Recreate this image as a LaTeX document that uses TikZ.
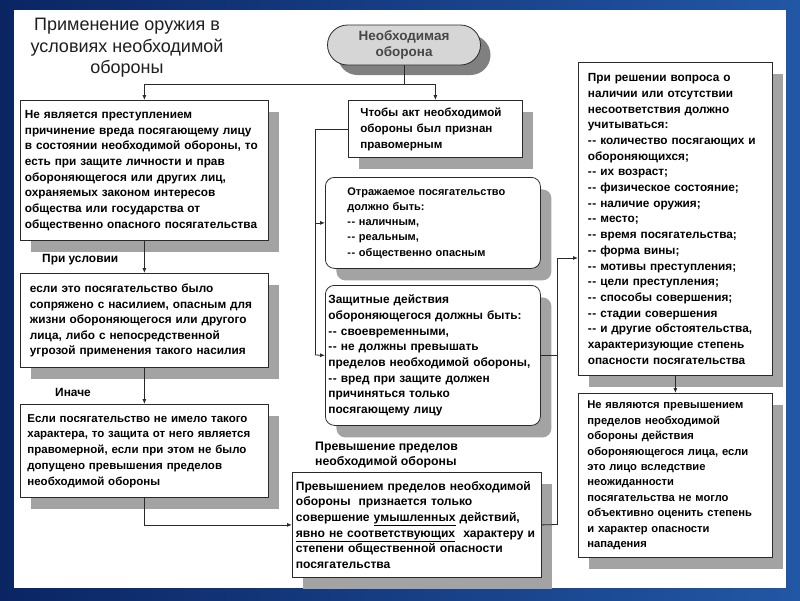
\documentclass[tikz,border=0pt]{standalone}
\usepackage{fontspec}
\setmainfont{Liberation Sans}
\usetikzlibrary{shadows,arrows.meta,calc}
\definecolor{bgdark}{HTML}{0B2563}
\definecolor{bglight}{HTML}{2257A5}
\definecolor{lineclr}{HTML}{2A2A2A}
\definecolor{shadowclr}{HTML}{A3A3A3}
\definecolor{capfill}{HTML}{D6D6D6}
\definecolor{capshadow}{HTML}{808080}
\newcommand\hh{-\kern0.6pt-}
\newcommand\bfsz[2]{\bfseries\fontsize{#1}{#2}\selectfont}
\begin{document}
\begin{tikzpicture}[x=1pt,y=-1pt,
  txt/.style={font=\bfsz{11}{15.7}, text=black},
  box/.style={txt, draw=lineclr, line width=0.8pt, fill=white, align=left, anchor=north west,
     inner xsep=5pt, inner ysep=0pt,
     drop shadow={shadow xshift=11pt, shadow yshift=-12pt, fill=shadowclr, opacity=1}},
  rbox/.style={box, rounded corners=9pt},
  conn/.style={draw=lineclr, line width=0.8pt},
  arr/.style={conn, -{Latex[length=5pt,width=4pt]}},
  lbl/.style={txt, align=left, anchor=west, inner sep=0pt}]
\useasboundingbox (0,0) rectangle (800,600);
\shade[left color=bgdark, right color=bglight] (0,0) rectangle (800,600);
\fill[white] (14,10) rectangle (786,588);

% title
\node[font=\fontsize{18}{21.5}\selectfont, align=center, text=black!88] (title) at (127,48)
  {Применение оружия в\\условиях необходимой\\обороны};

% top capsule
\node[draw=lineclr, line width=0.8pt, fill=capfill, rounded corners=20pt,
  minimum width=153pt, minimum height=40pt, align=center,
  font=\bfsz{13.5}{16}, text=black!72,
  drop shadow={shadow xshift=10pt, shadow yshift=-10pt, fill=capshadow, opacity=1}]
  (top) at (404,45) {Необходимая\\оборона};

% left column
\node[box, font=\bfsz{11.8}{15.7}, text width=239pt, inner xsep=4.5pt, minimum height=140pt] (L1) at (20,100)
  {Не является преступлением\\
   причинение вреда посягающему лицу\\
   в состоянии необходимой обороны, то\\
   есть при защите личности и прав\\
   обороняющегося или других лиц,\\
   охраняемых законом интересов\\
   общества или государства от\\
   общественно опасного посягательства};
\node[box, font=\bfsz{11.8}{15.5}, inner xsep=9.5pt, text width=229pt, minimum height=94pt] (L2) at (20,273)
  {если это посягательство было\\
   сопряжено с насилием, опасным для\\
   жизни обороняющегося или другого\\
   лица, либо с непосредственной\\
   угрозой применения такого насилия};
\node[box, font=\bfsz{11.5}{15.7}, inner xsep=7pt, text width=234pt, minimum height=93pt] (L3) at (20,404)
  {Если посягательство не имело такого\\
   характера, то защита от него является\\
   правомерной, если при этом не было\\
   допущено превышения пределов\\
   необходимой обороны};

\node[lbl, font=\bfsz{11.9}{15}] (lb1) at (42,260) {При условии};
\node[lbl, font=\bfsz{11.9}{15}] (lb2) at (55,392) {Иначе};

% middle column
\node[box, font=\bfsz{11.6}{16}, inner xsep=12pt, text width=150pt, minimum height=57pt] (M1) at (348,100)
  {Чтобы акт необходимой\\
   обороны был признан\\
   правомерным};
\node[rbox, font=\bfsz{11}{15.2}, inner xsep=22pt, text width=171pt, minimum height=91pt] (M2) at (325,177)
  {Отражаемое посягательство\\
   должно быть:\\
   \hh{} наличным,\\
   \hh{} реальным,\\
   \hh{} общественно опасным};
\node[rbox, font=\bfsz{11.9}{15.7}, inner xsep=3pt, text width=209pt, minimum height=140pt] (M3) at (325,285)
  {Защитные действия\\
   обороняющегося должны быть:\\
   \hh{} своевременными,\\
   \hh{} не должны превышать\\
   пределов необходимой обороны,\\
   \hh{} вред при защите должен\\
   причиняться только\\
   посягающему лицу};

\node[lbl, font=\bfsz{12.3}{15}] (lb3) at (315,455.5)
  {Превышение пределов\\необходимой обороны};

\node[box, font=\bfsz{12.1}{15.7}, inner xsep=3.5pt, text width=242pt, minimum height=105pt] (M4) at (292,472)
  {Превышением пределов необходимой\\
   обороны \ признается только\\
   совершение \underline{умышленных} действий,\\
   \underline{явно не соответствующих} \ характеру и\\
   степени общественной опасности\\
   посягательства};

% right column
\node[box, font=\bfsz{11.8}{15.7}, inner xsep=9.5pt, text width=175pt, minimum height=313pt] (R1) at (578,62)
  {При решении вопроса о\\
   наличии или отсутствии\\
   несоответствия должно\\
   учитываться:\\
   \hh{} количество посягающих и\\
   обороняющихся;\\
   \hh{} их возраст;\\
   \hh{} физическое состояние;\\
   \hh{} наличие оружия;\\
   \hh{} место;\\
   \hh{} время посягательства;\\
   \hh{} форма вины;\\
   \hh{} мотивы преступления;\\
   \hh{} цели преступления;\\
   \hh{} способы совершения;\\
   \hh{} стадии совершения\\
   \hh{} и другие обстоятельства,\\
   характеризующие степень\\
   опасности посягательства};
\node[box, font=\bfsz{11.2}{15.4}, inner xsep=9pt, text width=176pt, minimum height=164pt] (R2) at (578,393)
  {Не являются превышением\\
   пределов необходимой\\
   обороны действия\\
   обороняющегося лица, если\\
   это лицо вследствие\\
   неожиданности\\
   посягательства не могло\\
   объективно оценить степень\\
   и характер опасности\\
   нападения};

% connectors
\coordinate (j0) at (404,84);
\draw[conn] (top.south) -- (j0);
\draw[arr] (j0) -| (L1.north);
\draw[arr] (j0) -| (M1.north);
\draw[arr] (L1.south) -- (L2.north);
\draw[arr] (L2.south) -- (L3.north);
\draw[arr] (L3.south) |- (M4.west);

\coordinate (vM) at (315,355);
\draw[conn] (M1.west) -| (vM);
\draw[arr] (vM |- M2.west) -- (M2.west);
\draw[arr] (vM) -- (M3.west);

\coordinate (vR1) at (557,258);
\coordinate (vR2) at (557,524.5);
\draw[conn] (M3.east) -- (M3.east -| vR1);
\draw[conn] (vR1) -- (vR2);
\draw[arr] (vR1) -- (vR1 -| R1.west);
\draw[conn] (vR2) -- (M4.east);
\draw[arr] (R1.south) -- (R2.north);
\end{tikzpicture}
\end{document}
